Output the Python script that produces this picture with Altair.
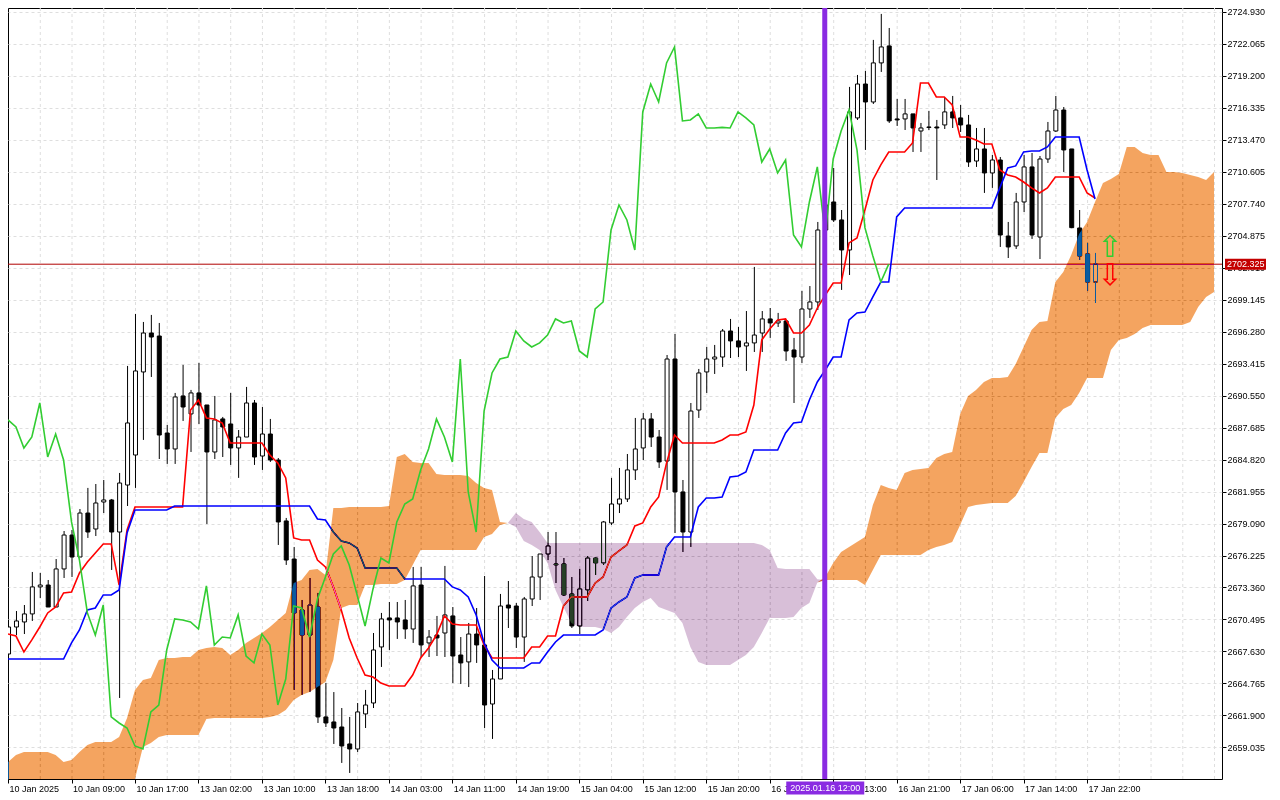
import json
import altair as alt
import pandas as pd

# ---------------- data (hourly bars, index 0 = 10 Jan 01:00) ----------------
opens = [2667.40, 2669.82, 2670.27, 2670.99, 2673.41, 2673.58, 2671.61, 2675.02, 2678.06, 2676.09,
         2680.03, 2678.60, 2681.02, 2681.20, 2678.33, 2682.54, 2685.23, 2692.67, 2696.16, 2695.89,
         2687.20, 2685.77, 2690.52, 2688.91, 2690.79, 2689.71, 2685.50, 2688.46, 2688.01, 2685.86,
         2686.84, 2689.89, 2685.14, 2687.11, 2684.78, 2679.32, 2675.91, 2671.34, 2669.10, 2671.61,
         2661.76, 2661.31, 2660.86, 2659.34, 2658.89, 2662.03, 2663.01, 2668.03, 2670.63, 2670.63,
         2670.45, 2669.64, 2673.58, 2668.39, 2669.10, 2669.28, 2670.81, 2667.31, 2666.69, 2669.19,
         2668.21, 2662.92, 2665.16, 2671.79, 2671.70, 2668.92, 2672.33, 2674.30, 2676.36, 2675.47,
         2675.47, 2672.78, 2669.91, 2673.14, 2676.00, 2675.56, 2679.14, 2680.84, 2681.29, 2683.89,
         2685.86, 2688.46, 2686.84, 2684.69, 2693.83, 2681.92, 2678.33, 2689.26, 2692.67, 2693.83,
         2694.01, 2696.34, 2695.45, 2695.00, 2695.27, 2696.16, 2697.42, 2697.06, 2697.24, 2694.64,
         2694.01, 2698.31, 2698.94, 2705.39, 2707.90, 2706.29, 2703.60, 2715.43, 2718.47, 2716.86,
         2720.36, 2721.88, 2715.34, 2715.34, 2715.79, 2714.26, 2714.62, 2714.62, 2714.80, 2715.97,
         2715.43, 2714.80, 2711.57, 2712.65, 2710.50, 2711.66, 2704.85, 2703.96, 2707.90, 2711.04,
         2704.76, 2711.75, 2714.26, 2716.14, 2712.65, 2705.57, 2703.24, 2700.73]
highs = [2669.91, 2671.25, 2671.79, 2674.75, 2674.66, 2674.03, 2675.91, 2678.42, 2678.51, 2680.39,
         2682.28, 2682.63, 2682.99, 2681.29, 2683.62, 2693.21, 2697.87, 2697.15, 2697.78, 2697.06,
         2687.92, 2690.79, 2693.30, 2691.06, 2693.48, 2689.71, 2690.52, 2688.64, 2690.79, 2687.47,
         2691.33, 2690.16, 2689.53, 2688.46, 2684.96, 2679.59, 2676.99, 2672.24, 2674.21, 2672.87,
         2664.80, 2663.99, 2662.56, 2661.76, 2663.01, 2664.18, 2669.28, 2671.08, 2672.06, 2672.06,
         2672.24, 2675.20, 2675.20, 2669.55, 2670.81, 2675.29, 2671.61, 2668.92, 2670.18, 2671.52,
         2674.39, 2665.97, 2672.78, 2673.94, 2671.97, 2672.51, 2676.18, 2676.36, 2678.33, 2678.33,
         2676.00, 2674.30, 2675.02, 2676.18, 2676.09, 2679.32, 2683.18, 2684.07, 2685.32, 2688.55,
         2688.99, 2688.99, 2687.47, 2694.19, 2696.07, 2682.99, 2689.89, 2692.94, 2694.91, 2695.09,
         2696.52, 2697.42, 2696.70, 2698.13, 2702.08, 2698.13, 2698.40, 2697.96, 2697.33, 2695.72,
         2699.93, 2700.37, 2706.11, 2708.26, 2710.95, 2707.18, 2718.21, 2719.28, 2719.64, 2722.42,
         2724.75, 2723.49, 2717.13, 2717.13, 2715.79, 2714.98, 2716.05, 2715.25, 2717.22, 2717.40,
         2716.59, 2715.70, 2714.53, 2714.53, 2712.11, 2711.93, 2706.11, 2708.71, 2712.11, 2712.29,
         2712.02, 2715.07, 2717.40, 2716.41, 2712.65, 2707.18, 2704.23, 2703.33]
lows = [2667.31, 2669.10, 2669.19, 2670.36, 2672.42, 2671.61, 2671.61, 2674.21, 2674.30, 2676.09,
        2677.80, 2677.97, 2680.03, 2674.93, 2663.46, 2680.66, 2682.28, 2686.58, 2692.22, 2684.87,
        2684.43, 2684.43, 2688.28, 2685.50, 2688.01, 2679.05, 2684.87, 2685.05, 2684.34, 2683.18,
        2686.84, 2684.34, 2683.89, 2684.61, 2677.17, 2675.38, 2664.18, 2663.73, 2663.99, 2661.22,
        2660.86, 2659.34, 2657.64, 2656.74, 2658.62, 2660.77, 2662.56, 2666.24, 2667.76, 2668.75,
        2668.75, 2668.39, 2667.13, 2667.13, 2667.22, 2667.13, 2664.80, 2664.71, 2664.44, 2666.60,
        2660.77, 2659.79, 2665.16, 2669.73, 2667.94, 2666.69, 2671.70, 2672.24, 2675.82, 2673.76,
        2672.60, 2669.73, 2669.19, 2672.15, 2674.48, 2675.38, 2678.96, 2680.03, 2681.02, 2682.99,
        2684.78, 2685.95, 2684.07, 2682.10, 2678.24, 2676.54, 2676.99, 2688.55, 2690.79, 2692.49,
        2693.12, 2693.92, 2694.01, 2692.76, 2694.46, 2694.46, 2695.72, 2696.70, 2693.66, 2689.89,
        2693.48, 2697.51, 2698.22, 2700.02, 2706.11, 2700.02, 2701.36, 2715.25, 2712.56, 2716.68,
        2719.55, 2714.98, 2714.71, 2714.35, 2712.38, 2712.38, 2714.35, 2709.87, 2714.44, 2714.53,
        2714.17, 2711.04, 2711.04, 2708.71, 2709.16, 2703.87, 2702.88, 2703.69, 2707.00, 2704.59,
        2702.79, 2711.40, 2714.17, 2710.59, 2705.55, 2702.70, 2699.93, 2698.85]
closes = [2669.82, 2670.36, 2670.99, 2673.41, 2673.58, 2671.61, 2675.02, 2678.06, 2676.09, 2680.03,
          2678.33, 2680.93, 2681.20, 2678.33, 2682.72, 2688.10, 2692.76, 2696.16, 2695.80, 2687.02,
          2685.77, 2690.43, 2689.53, 2690.79, 2689.71, 2685.50, 2688.37, 2687.74, 2685.86, 2686.84,
          2689.89, 2685.05, 2687.11, 2684.78, 2679.23, 2675.82, 2671.08, 2669.10, 2671.79, 2661.76,
          2661.22, 2660.77, 2659.16, 2658.89, 2662.21, 2662.83, 2667.76, 2670.54, 2670.45, 2670.27,
          2669.64, 2673.50, 2668.21, 2668.92, 2668.84, 2670.90, 2667.22, 2666.60, 2669.19, 2668.21,
          2662.83, 2665.16, 2671.70, 2671.52, 2668.92, 2672.33, 2674.30, 2676.36, 2677.08, 2675.38,
          2672.69, 2669.91, 2673.23, 2676.00, 2675.56, 2679.23, 2680.84, 2681.29, 2683.89, 2685.77,
          2688.46, 2686.84, 2684.61, 2693.83, 2681.92, 2678.33, 2689.17, 2692.58, 2693.83, 2694.01,
          2696.34, 2695.45, 2694.91, 2695.27, 2695.98, 2697.42, 2697.06, 2697.24, 2694.55, 2694.01,
          2698.31, 2698.94, 2705.39, 2707.63, 2706.29, 2703.60, 2715.97, 2718.47, 2716.86, 2720.36,
          2721.79, 2715.16, 2715.25, 2715.79, 2714.53, 2714.53, 2714.58, 2714.53, 2715.97, 2715.43,
          2714.80, 2711.48, 2712.65, 2710.50, 2711.66, 2704.94, 2703.87, 2707.90, 2711.04, 2704.94,
          2711.75, 2714.26, 2716.14, 2712.56, 2705.60, 2703.06, 2700.73, 2702.33]

tenkan = [2669.19, 2669.01, 2667.58, 2668.66, 2669.82, 2671.08, 2671.61, 2672.87, 2672.96, 2674.66,
          2675.64, 2676.45, 2677.26, 2677.26, 2673.58, 2678.51, 2680.57, 2680.57, 2680.57, 2680.57,
          2680.57, 2680.57, 2680.57, 2689.26, 2690.16, 2688.55, 2688.46, 2688.10, 2686.31, 2686.31,
          2686.31, 2686.31, 2686.31, 2685.23, 2684.52, 2683.17, 2677.80, 2677.62, 2677.62, 2675.82,
          2675.20, 2673.41, 2671.34, 2668.84, 2667.04, 2665.52, 2665.34, 2664.80, 2664.53, 2664.53,
          2664.53, 2665.52, 2667.04, 2667.94, 2669.10, 2670.81, 2670.09, 2670.00, 2670.00, 2670.00,
          2668.21, 2667.04, 2667.04, 2667.04, 2667.04, 2667.04, 2668.03, 2668.03, 2669.01, 2669.01,
          2671.70, 2672.51, 2672.51, 2672.51, 2673.76, 2674.30, 2676.09, 2676.63, 2677.17, 2678.87,
          2679.14, 2680.57, 2681.47, 2684.52, 2687.02, 2686.31, 2686.31, 2686.31, 2686.31, 2686.31,
          2686.58, 2687.02, 2687.02, 2687.29, 2689.71, 2695.54, 2696.52, 2697.33, 2697.42, 2696.16,
          2696.16, 2696.88, 2698.40, 2699.57, 2700.64, 2700.64, 2704.23, 2704.68, 2707.18, 2709.87,
          2711.22, 2712.38, 2712.38, 2712.38, 2713.19, 2718.56, 2718.56, 2717.31, 2717.31, 2716.59,
          2713.72, 2713.72, 2713.46, 2713.10, 2713.10, 2710.77, 2710.32, 2710.14, 2709.69, 2709.16,
          2708.71, 2709.16, 2710.14, 2710.14, 2710.14, 2710.14, 2708.71, 2708.26]
kijun = [2666.95, 2666.95, 2666.95, 2666.95, 2666.95, 2666.95, 2666.95, 2666.95, 2668.39, 2669.55,
         2671.34, 2671.52, 2672.69, 2672.69, 2673.14, 2678.24, 2680.30, 2680.30, 2680.30, 2680.30,
         2680.30, 2680.66, 2680.66, 2680.66, 2680.66, 2680.66, 2680.66, 2680.66, 2680.66, 2680.66,
         2680.66, 2680.66, 2680.66, 2680.66, 2680.66, 2680.66, 2680.66, 2680.66, 2680.66, 2679.50,
         2679.41, 2678.33, 2677.53, 2677.35, 2676.90, 2675.11, 2675.11, 2675.11, 2675.11, 2675.11,
         2674.12, 2674.12, 2674.12, 2674.12, 2674.12, 2674.12, 2673.41, 2673.14, 2672.51, 2670.90,
         2668.39, 2666.86, 2666.15, 2666.15, 2666.15, 2666.15, 2666.60, 2666.60, 2667.58, 2668.48,
         2669.10, 2669.10, 2669.10, 2669.10, 2669.10, 2669.55, 2671.52, 2672.06, 2672.51, 2674.21,
         2674.48, 2674.48, 2674.48, 2676.99, 2677.88, 2677.88, 2677.88, 2680.57, 2681.38, 2681.38,
         2681.47, 2683.26, 2683.35, 2683.71, 2685.68, 2685.68, 2685.68, 2685.68, 2687.20, 2688.10,
         2688.19, 2690.16, 2691.77, 2692.85, 2694.01, 2694.01, 2697.33, 2697.96, 2698.04, 2699.39,
         2700.73, 2700.73, 2706.56, 2707.36, 2707.36, 2707.36, 2707.36, 2707.36, 2707.36, 2707.36,
         2707.36, 2707.36, 2707.36, 2707.36, 2707.36, 2709.16, 2710.95, 2711.13, 2712.38, 2712.47,
         2712.47, 2712.83, 2713.72, 2713.72, 2713.72, 2713.72, 2710.77, 2708.17]

span_a = [2657.72, 2658.35, 2658.62, 2658.62, 2658.62, 2658.62, 2658.35, 2657.72, 2657.90, 2658.62,
          2659.25, 2659.52, 2659.52, 2659.52, 2659.96, 2661.67, 2664.18, 2665.07, 2665.25, 2666.86,
          2667.04, 2667.04, 2667.13, 2667.13, 2667.76, 2667.94, 2668.03, 2667.94, 2667.31, 2667.76,
          2668.39, 2668.84, 2669.28, 2669.82, 2670.45, 2671.08, 2673.76, 2674.03, 2674.93, 2675.02,
          2674.48, 2680.48, 2680.48, 2680.57, 2680.57, 2680.57, 2680.57, 2680.57, 2680.66, 2685.05,
          2685.32, 2684.60, 2684.52, 2684.52, 2683.53, 2683.44, 2683.44, 2683.44, 2683.35, 2682.72,
          2682.28, 2682.10, 2679.23, 2679.14, 2678.78, 2677.53, 2677.17, 2676.72, 2675.56, 2673.14,
          2671.61, 2670.18, 2669.82, 2669.82, 2669.82, 2669.64, 2669.28, 2669.82, 2670.72, 2671.52,
          2672.06, 2672.42, 2671.61, 2671.34, 2671.08, 2670.18, 2668.03, 2666.69, 2666.42, 2666.42,
          2666.42, 2666.42, 2666.86, 2667.31, 2668.03, 2669.28, 2670.63, 2670.63, 2670.63, 2670.72,
          2671.52, 2671.97, 2673.80, 2674.30, 2675.56, 2676.54, 2676.99, 2677.44, 2677.88, 2680.75,
          2682.54, 2682.28, 2682.10, 2683.62, 2683.89, 2683.98, 2684.07, 2684.96, 2685.32, 2685.50,
          2688.91, 2690.52, 2691.06, 2691.77, 2692.13, 2692.13, 2692.22, 2693.39, 2694.91, 2696.43,
          2697.15, 2697.24, 2700.73, 2701.63, 2703.15, 2705.03, 2706.11, 2707.90, 2709.60, 2709.96,
          2710.41, 2712.83, 2712.83, 2712.29, 2712.11, 2712.11, 2710.59, 2710.59, 2710.50, 2710.32,
          2710.14, 2709.87, 2710.59]
span_b = [2654.32, 2654.32, 2654.32, 2654.32, 2654.32, 2654.32, 2654.32, 2654.32, 2654.32, 2654.32,
          2654.32, 2654.32, 2654.32, 2654.32, 2654.32, 2654.32, 2656.11, 2659.07, 2659.43, 2659.96,
          2660.14, 2660.14, 2660.14, 2660.14, 2660.14, 2661.58, 2661.67, 2661.67, 2661.67, 2661.67,
          2661.67, 2661.67, 2661.67, 2661.76, 2661.94, 2662.38, 2663.28, 2663.73, 2663.99, 2664.44,
          2664.89, 2666.86, 2671.52, 2671.79, 2671.79, 2673.58, 2673.58, 2673.67, 2673.67, 2673.67,
          2674.03, 2675.38, 2676.72, 2676.72, 2676.72, 2676.72, 2676.72, 2676.72, 2676.72, 2676.72,
          2677.88, 2678.15, 2678.96, 2679.14, 2680.03, 2679.50, 2679.23, 2678.33, 2677.35, 2677.35,
          2677.35, 2677.35, 2677.35, 2677.35, 2677.35, 2677.35, 2677.35, 2677.35, 2677.35, 2677.35,
          2677.35, 2677.35, 2677.35, 2677.35, 2677.35, 2677.35, 2677.35, 2677.35, 2677.35, 2677.35,
          2677.35, 2677.35, 2677.35, 2677.35, 2677.35, 2677.17, 2676.72, 2675.11, 2675.02, 2675.02,
          2675.02, 2675.02, 2674.10, 2674.03, 2674.03, 2674.03, 2674.03, 2674.03, 2673.58, 2674.93,
          2676.27, 2676.27, 2676.27, 2676.27, 2676.27, 2676.27, 2676.72, 2676.99, 2677.17, 2677.44,
          2678.96, 2680.57, 2680.75, 2680.84, 2680.93, 2680.93, 2680.93, 2681.56, 2682.81, 2684.16,
          2685.41, 2685.41, 2688.55, 2689.35, 2689.71, 2690.79, 2692.13, 2692.13, 2692.13, 2694.64,
          2695.54, 2695.72, 2696.07, 2696.61, 2696.88, 2696.88, 2696.88, 2696.88, 2696.88, 2697.15,
          2698.49, 2699.39, 2699.84]

time_labels = ["10 Jan 2025", "10 Jan 09:00", "10 Jan 17:00", "13 Jan 02:00", "13 Jan 10:00",
               "13 Jan 18:00", "14 Jan 03:00", "14 Jan 11:00", "14 Jan 19:00", "15 Jan 04:00",
               "15 Jan 12:00", "15 Jan 20:00", "16 Jan 05:00", "16 Jan 13:00", "16 Jan 21:00",
               "17 Jan 06:00", "17 Jan 14:00", "17 Jan 22:00"]
time_label_bars = [0, 8, 16, 24, 32, 40, 48, 56, 64, 72, 80, 88, 96, 104, 112, 120, 128, 136]
price_ticks = [2724.930, 2722.065, 2719.200, 2716.335, 2713.470, 2710.605, 2707.740, 2704.875,
               2702.010, 2699.145, 2696.280, 2693.415, 2690.550, 2687.685, 2684.820, 2681.955,
               2679.090, 2676.225, 2673.360, 2670.495, 2667.630, 2664.765, 2661.900, 2659.035]
grid_bars = [4, 8, 12, 16, 20, 24, 28, 32, 36, 40, 44, 48, 52, 56, 60, 64, 68, 72, 76, 80,
             84, 88, 92, 96, 100, 104, 108, 112, 116, 120, 124, 128, 132, 136, 140, 144, 148, 152]
bid_price = 2702.325
marker_bar = 103
marker_label = "2025.01.16 12:00"
arrow_bars = [138.9, 138.9]
arrow_prices = [2703.82, 2701.27]
arrow_glyphs = ["\u21e7", "\u21e9"]
arrow_colors = ["#32CD32", "#FF0000"]

# ---------------- frames ----------------
n = len(opens)
bars = pd.DataFrame({"k": list(range(n)), "open": opens, "high": highs, "low": lows, "close": closes})
bars["dir"] = ["up" if c >= o else "down" for o, c in zip(opens, closes)]
lines = pd.DataFrame({"k": list(range(n)), "tenkan": tenkan, "kijun": kijun})
chikou = pd.DataFrame({"k": list(range(n - 26)), "chikou": closes[26:]})
cloud = pd.DataFrame({"k": list(range(len(span_a))), "a": span_a, "b": span_b})
grid_df = pd.DataFrame({"k": grid_bars})
bid_df = pd.DataFrame({"p": [bid_price]})
marker_df = pd.DataFrame({"k": [marker_bar], "t": [marker_label]})
arrows = pd.DataFrame({"k": arrow_bars, "p": arrow_prices, "t": arrow_glyphs, "c": arrow_colors})

W, H = 1214, 771
FONT = "Liberation Sans"
xs = alt.Scale(domain=[0.625, 152.375], nice=False, zero=False, clamp=True)
ys = alt.Scale(domain=[2656.20, 2725.28], nice=False, zero=False, clamp=True)

label_expr = json.dumps(time_labels) + "[round(datum.value / 8)]"
x_axis = alt.Axis(values=time_label_bars, labelExpr=label_expr, labelAlign="left", labelOffset=1,
                  tickSize=4, tickColor="black", labelColor="black", labelFont=FONT, labelFontSize=9,
                  labelPadding=1, domain=False, grid=False, title=None, labelOverlap=False,
                  labelFlush=False, labelBound=False)
y_axis = alt.Axis(orient="right", values=price_ticks, format=".3f", tickSize=4, tickColor="black",
                  labelColor="black", labelFont=FONT, labelFontSize=9, labelPadding=1, domain=False,
                  grid=True, gridColor="#dedede", gridDash=[3, 3], title=None, labelOverlap=False,
                  labelFlush=False, labelBound=False)


def X(field="k:Q"):
    return alt.X(field, scale=xs, axis=x_axis, title=None)


def Y(field):
    return alt.Y(field, scale=ys, axis=y_axis, title=None)


vgrid = alt.Chart(grid_df).mark_rule(color="#dedede", strokeDash=[3, 3], strokeWidth=1, xOffset=0.5).encode(
    x=X(), y=alt.value(0), y2=alt.value(H))

bid_line = alt.Chart(bid_df).mark_rule(color="#b00000", strokeWidth=1).encode(
    y=Y("p:Q"), x=alt.value(0), x2=alt.value(W))

wicks = alt.Chart(bars).mark_rule(color="black", strokeWidth=1, xOffset=0.5, clip=True).encode(
    x=X(), y=Y("low:Q"), y2="high:Q")

bodies = alt.Chart(bars).mark_bar(size=4, stroke="black", strokeWidth=1, xOffset=0.5, clip=True).encode(
    x=X(), y=Y("open:Q"), y2="close:Q",
    fill=alt.Fill("dir:N", scale=alt.Scale(domain=["up", "down"], range=["white", "black"]), legend=None))

tenkan_line = alt.Chart(lines).mark_line(color="#FF0000", strokeWidth=1.6, clip=True).encode(
    x=X(), y=Y("tenkan:Q"))
kijun_line = alt.Chart(lines).mark_line(color="#0000FF", strokeWidth=1.6, clip=True).encode(
    x=X(), y=Y("kijun:Q"))

# Senkou span A / B filling (difference blend reproduces the terminal's XOR-style fill)
cloud_base = alt.Chart(cloud).transform_calculate(lo="min(datum.a, datum.b)")
cloud_up = cloud_base.mark_area(color="#0b5b9f", opacity=1, blend="difference").encode(
    x=X(), y=Y("a:Q"), y2="lo:Q")
cloud_down = cloud_base.mark_area(color="#274027", opacity=1, blend="difference").encode(
    x=X(), y=Y("b:Q"), y2="lo:Q")

chikou_line = alt.Chart(chikou).mark_line(color="#32CD32", strokeWidth=1.6, clip=True).encode(
    x=X(), y=Y("chikou:Q"))

arrow_marks = alt.Chart(arrows).mark_text(font="DejaVu Sans", fontSize=30, baseline="middle", align="center").encode(
    x=X(), y=Y("p:Q"), text="t:N", color=alt.Color("c:N", scale=None))

vline = alt.Chart(marker_df).mark_rule(color="#8A2BE2", strokeWidth=5, xOffset=-0.5).encode(
    x=X(), y=alt.value(0), y2=alt.value(H))
vbox = alt.Chart(marker_df).mark_rect(color="#8A2BE2", width=78, height=13).encode(
    x=X(), y=alt.value(H + 9))
vtext = alt.Chart(marker_df).mark_text(color="white", font=FONT, fontSize=9, baseline="middle", align="center").encode(
    x=X(), y=alt.value(H + 9), text="t:N")

pbox = alt.Chart(bid_df).mark_rect(color="#c40000", height=11).encode(
    y=Y("p:Q"), x=alt.value(W + 3), x2=alt.value(W + 44))
ptext = alt.Chart(bid_df).mark_text(color="white", font=FONT, fontSize=9, baseline="middle", align="left").encode(
    y=Y("p:Q"), x=alt.value(W + 5), text=alt.Text("p:Q", format=".3f"))

chart = alt.layer(
    vgrid, bid_line, wicks, bodies, tenkan_line, kijun_line, cloud_up, cloud_down,
    chikou_line, arrow_marks, vline, vbox, vtext, pbox, ptext
).properties(
    width=W, height=H,
    padding={"left": 0, "top": 0, "right": 48, "bottom": 16},
    autosize=alt.AutoSizeParams(type="none"),
    background="white",
).configure_view(stroke="black", strokeWidth=1)

chart.save("out.html", embed_options={"renderer": "svg", "actions": False})
